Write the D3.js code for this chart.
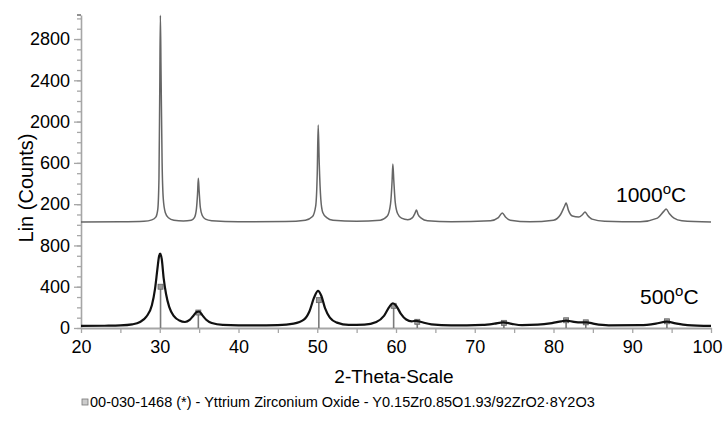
<!DOCTYPE html>
<html>
<head>
<meta charset="utf-8">
<script src="https://cdnjs.cloudflare.com/ajax/libs/d3/7.8.5/d3.min.js"></script>
<style>
  body { margin: 0; background: #fff; }
  svg { display: block; font-family: Arial, "Liberation Sans", sans-serif; }
</style>
</head>
<body>
<svg width="723" height="432"></svg>
<script>
// XRD patterns, [2-theta, counts]
var pattern1000 = [
  [20, 1028], [25, 1030], [28, 1035], [29, 1048], [29.5, 1075], [29.75, 1150], [29.9, 1450],
  [30.0, 2300], [30.08, 3030], [30.16, 2500], [30.3, 1600], [30.45, 1250], [30.7, 1120],
  [31.1, 1068], [31.8, 1045], [33, 1038], [34, 1045], [34.4, 1070], [34.65, 1150], [34.8, 1300],
  [34.9, 1450], [35.0, 1330], [35.15, 1170], [35.4, 1090], [35.8, 1055], [36.6, 1040], [40, 1030],
  [46, 1032], [48.5, 1045], [49.4, 1080], [49.8, 1180], [50.0, 1500], [50.12, 1967], [50.25, 1600],
  [50.45, 1250], [50.7, 1120], [51.2, 1070], [52, 1045], [55, 1035], [58, 1045], [58.9, 1085],
  [59.3, 1200], [59.5, 1420], [59.6, 1590], [59.72, 1430], [59.9, 1220], [60.2, 1110], [60.7, 1065],
  [61.5, 1050], [62.1, 1070], [62.4, 1110], [62.6, 1143], [62.8, 1100], [63.2, 1065], [64, 1040],
  [67, 1030], [72, 1040], [73, 1070], [73.5, 1114], [73.9, 1075], [74.5, 1045], [77, 1030],
  [80, 1045], [80.9, 1100], [81.4, 1180], [81.6, 1211], [81.9, 1140], [82.4, 1085], [83.2, 1075],
  [83.7, 1100], [84.0, 1124], [84.3, 1095], [84.9, 1055], [86.5, 1035], [91, 1030], [93.2, 1065],
  [94.0, 1130], [94.3, 1153], [94.7, 1110], [95.3, 1065], [96.3, 1040], [100, 1028]
];

var pattern500 = [
  [20, 20], [23, 22], [25, 25], [26.5, 35], [27.5, 58], [28.3, 110], [29.0, 220], [29.4, 380],
  [29.7, 570], [29.9, 690], [30.05, 720], [30.25, 670], [30.5, 480], [30.8, 330], [31.2, 205],
  [31.8, 115], [32.5, 72], [33.2, 58], [33.8, 78], [34.3, 122], [34.7, 155], [35.0, 160],
  [35.4, 125], [35.9, 80], [36.6, 48], [38, 30], [42, 25], [45, 28], [47, 42], [48.3, 80],
  [49.0, 160], [49.6, 295], [50.1, 360], [50.5, 315], [51.0, 190], [51.6, 100], [52.5, 52],
  [54, 30], [56, 32], [57.5, 58], [58.5, 120], [59.2, 210], [59.6, 240], [60.0, 218], [60.6, 140],
  [61.3, 82], [62, 65], [62.6, 70], [63.2, 58], [64.5, 35], [67, 25], [71, 30], [72.5, 42],
  [73.6, 55], [74.7, 40], [76, 28], [78, 32], [79.8, 48], [81, 65], [81.6, 72], [82.6, 60],
  [83.5, 55], [84.2, 55], [85.2, 40], [87, 26], [91, 27], [93, 42], [94.4, 62], [95.5, 45],
  [97, 28], [100, 20]
];

// reference pattern 00-030-1468 (sticks)
var refTheta = [30.1, 34.9, 50.2, 59.7, 62.7, 73.7, 81.6, 84.1, 94.4];
var refHeight = [400, 150, 270, 215, 60, 50, 75, 55, 65];

var xTickValues = [20, 30, 40, 50, 60, 70, 80, 90, 100];
var xMinorValues = [25, 35, 45, 55, 65, 75, 85, 95];
var yTickValues = [0, 400, 800, 1200, 1600, 2000, 2400, 2800];
var yTickLabels = ["0", "400", "800", "200", "600", "2000", "2400", "2800"];

var svg = d3.select("svg"),
  margin = {top: 15, right: 12, bottom: 104, left: 81},
  width = +svg.attr("width") - margin.left - margin.right,
  height = +svg.attr("height") - margin.top - margin.bottom,
  g = svg.append("g").attr("transform", "translate(" + margin.left + "," + margin.top + ")");

var x = d3.scaleLinear().domain([20, 100]).range([0, width]);
var y = d3.scaleLinear().domain([0, 3033]).range([height, 0]);

var axisColor = "#a6a6a6";

// y axis: minor ticks every 100, labelled every 400
g.append("g")
  .attr("class", "axis")
  .call(d3.axisLeft(y).tickValues(d3.range(0, 3001, 100)).tickSize(4).tickSizeOuter(0).tickFormat(""))
  .call(function(a) {
    a.select(".domain").attr("stroke", axisColor).attr("stroke-width", 1.6);
    a.selectAll("line").attr("stroke", axisColor).attr("stroke-width", 1.3);
  });

g.append("g")
  .attr("class", "axis")
  .call(d3.axisLeft(y).tickValues(yTickValues).tickSize(7).tickPadding(4).tickSizeOuter(0)
    .tickFormat(function(d, i) { return yTickLabels[i]; }))
  .call(function(a) {
    a.select(".domain").remove();
    a.selectAll("line").attr("stroke", axisColor).attr("stroke-width", 1.3);
    a.selectAll("text").attr("font-size", 18).attr("fill", "#000")
      .attr("font-family", "Arial, 'Liberation Sans', sans-serif");
  });

// y axis top cap tick
g.append("line")
  .attr("x1", -4).attr("x2", 0)
  .attr("y1", 0).attr("y2", 0)
  .attr("stroke", "#555").attr("stroke-width", 1.3);

// x axis
g.append("g")
  .attr("transform", "translate(0," + height + ")")
  .call(d3.axisBottom(x).tickValues(xMinorValues).tickSize(5).tickSizeOuter(0).tickFormat(""))
  .call(function(a) {
    a.select(".domain").remove();
    a.selectAll("line").attr("stroke", axisColor).attr("stroke-width", 1.3);
  });

g.append("g")
  .attr("transform", "translate(0," + height + ")")
  .call(d3.axisBottom(x).tickValues(xTickValues).tickSize(5).tickPadding(7).tickSizeOuter(0).tickFormat(d3.format("d")))
  .call(function(a) {
    a.select(".domain").attr("stroke", axisColor).attr("stroke-width", 2);
    a.selectAll("line").attr("stroke", axisColor).attr("stroke-width", 1.3);
    a.selectAll("text").attr("font-size", 18).attr("fill", "#000")
      .attr("font-family", "Arial, 'Liberation Sans', sans-serif")
      .attr("dx", function(d) { return d === 100 ? -4 : 0; });
  });

var line = d3.line()
  .x(function(d) { return x(d[0]); })
  .y(function(d) { return y(d[1]); })
  .curve(d3.curveMonotoneX);

// reference sticks
var sticks = g.append("g").selectAll("g")
  .data(refTheta)
  .enter().append("g");

sticks.append("line")
  .attr("x1", function(d) { return x(d); })
  .attr("x2", function(d) { return x(d); })
  .attr("y1", y(0))
  .attr("y2", function(d, i) { return y(refHeight[i]); })
  .attr("stroke", "#7a7a7a")
  .attr("stroke-width", 1.6);

// 1000 C trace
g.append("path")
  .datum(pattern1000)
  .attr("fill", "none")
  .attr("stroke", "#666")
  .attr("stroke-width", 1.5)
  .attr("d", line);

// 500 C trace
g.append("path")
  .datum(pattern500)
  .attr("fill", "none")
  .attr("stroke", "#111")
  .attr("stroke-width", 2.2)
  .attr("d", line);

sticks.append("rect")
  .attr("x", function(d) { return x(d) - 2.5; })
  .attr("y", function(d, i) { return y(refHeight[i]) - 2.5; })
  .attr("width", 5)
  .attr("height", 5)
  .attr("fill", "#9a9a9a")
  .attr("stroke", "#666")
  .attr("stroke-width", 0.8);

// temperature labels
function tempLabel(tx, ty, t) {
  var txt = svg.append("text")
    .attr("x", tx).attr("y", ty)
    .attr("font-size", 21)
    .attr("fill", "#000");
  txt.append("tspan").text(t);
  txt.append("tspan").attr("font-size", 15).attr("dy", -8).text("o");
  txt.append("tspan").attr("dy", 8).text("C");
}
tempLabel(616, 202, "1000");
tempLabel(640, 304, "500");

// axis titles
svg.append("text")
  .attr("transform", "translate(33,188) rotate(-90)")
  .attr("text-anchor", "middle")
  .attr("font-size", 20)
  .attr("fill", "#000")
  .text("Lin (Counts)");

svg.append("text")
  .attr("x", 394)
  .attr("y", 383)
  .attr("text-anchor", "middle")
  .attr("font-size", 19)
  .attr("fill", "#000")
  .text("2-Theta-Scale");

// legend
var legend = svg.append("g").attr("transform", "translate(85,402)");
legend.append("rect")
  .attr("x", -3).attr("y", -3)
  .attr("width", 6).attr("height", 6)
  .attr("fill", "#ccc")
  .attr("stroke", "#777")
  .attr("stroke-width", 0.8);
legend.append("text")
  .attr("x", 5)
  .attr("y", 5)
  .attr("font-size", 14.5)
  .attr("fill", "#000")
  .text("00-030-1468 (*) - Yttrium Zirconium Oxide - Y0.15Zr0.85O1.93/92ZrO2\u00b78Y2O3");
</script>
</body>
</html>
